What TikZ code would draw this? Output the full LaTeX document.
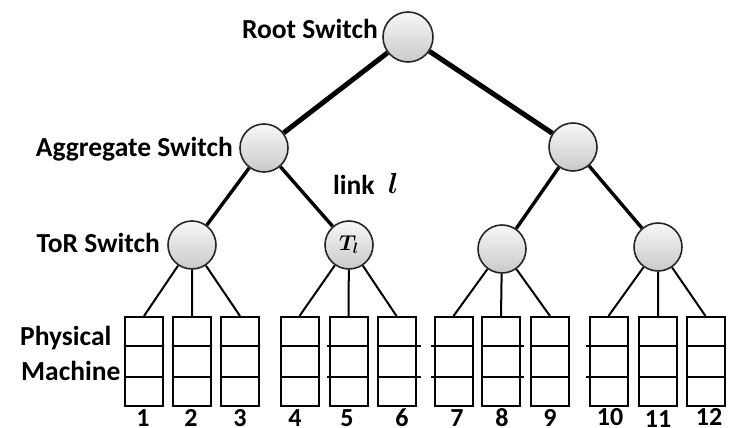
\RequirePackage{fix-cm}
\documentclass[tikz,border=0pt]{standalone}
\usepackage{fontspec}
\setmainfont{Carlito}
\usepackage{bm}
\usetikzlibrary{calc,backgrounds}
\begin{document}
\begin{tikzpicture}[x=1pt,y=-1pt,
  switch/.style={circle,draw=black!85,line width=1.6pt,top color=gray!6,bottom color=gray!42,
                 minimum size=48pt,inner sep=0pt},
  machine/.style={rectangle,draw=black,line width=2pt,minimum width=38pt,minimum height=89pt,inner sep=0pt},
  lbl/.style={font=\fontsize{27.5}{32}\selectfont\bfseries,inner sep=0pt},
  numlbl/.style={font=\fontsize{26}{30}\selectfont\bfseries,inner sep=0pt},
  core/.style={line width=5pt},
  aggr/.style={line width=3.4pt},
  acc/.style={line width=2pt}
]
\useasboundingbox (0,0) rectangle (729,428);

% switches
\node[switch,minimum size=50pt] (root) at (408,37) {};
\node[switch] (aggL) at (264,148) {};
\node[switch] (aggR) at (573,147) {};
\node[switch] (tor1) at (192,245) {};
\node[switch,font=\fontsize{21.5}{24}\selectfont] (tor2) at (349,245) {$\bm{T_{l}}$};
\node[switch] (tor3) at (502,249) {};
\node[switch] (tor4) at (658,247) {};

% physical machines, each split into three slots
\foreach \i/\cx/\lo/\ro in {1/144/0/0, 2/192/0/0, 3/240/0/0, 4/299.5/0/0, 5/348.5/2/0, 6/396.5/0/4,
                            7/453.5/3/0, 8/501/0/3, 9/550/0/0, 10/608.5/3/0, 11/658/0/0, 12/705.5/0/0} {
  \node[machine] (m\i) at (\cx,361.5) {};
  \draw[line width=2pt]
    ($(m\i.north west)!1/3!(m\i.south west)+(-\lo,0)$) -- ($(m\i.north east)!1/3!(m\i.south east)+(\ro,0)$)
    ($(m\i.north west)!2/3!(m\i.south west)+(-\lo,0)$) -- ($(m\i.north east)!2/3!(m\i.south east)+(\ro,0)$);
}

% links
\begin{scope}[on background layer]
  \draw[core] (root) -- (aggL) (root) -- (aggR);
  \draw[aggr] (aggL) -- (tor1) (aggL) -- (tor2) (aggR) -- (tor3) (aggR) -- (tor4);
  \foreach \t/\a/\b/\c in {1/1/2/3, 2/4/5/6, 3/7/8/9, 4/10/11/12}
    \draw[acc] (tor\t) -- (m\a.north) (tor\t) -- (m\b.north) (tor\t) -- (m\c.north);
\end{scope}

% labels
\node[lbl,anchor=base east] (rootlbl) at (378,39) {Root Switch};
\node[lbl,anchor=base east] (agglbl) at (233,157) {Aggregate Switch};
\node[lbl,anchor=base east] (torlbl) at (160,252.5) {ToR Switch};
\node[lbl,anchor=base west] (pmA) at (20,345) {Physical};
\node[lbl,anchor=base west] (pmB) at (21,380) {Machine};
\node[lbl,anchor=base west] (linklbl) at (333,194) {link};
\node[inner sep=0pt,anchor=base west,font=\fontsize{29}{32}\selectfont] (linkvar) at (388,193) {$\bm{l}$};

% machine numbers
\foreach \n/\cx/\by in {1/143/426, 2/191/426, 3/240/426, 4/295/426, 5/347/426, 6/402/426,
                        7/457/426.5, 8/502/426.5, 9/550/426.5, 10/610/425.5, 11/658/427, 12/709/425.5}
  \node[numlbl,anchor=base] (num\n) at (\cx,\by) {\n};
\end{tikzpicture}
\end{document}
